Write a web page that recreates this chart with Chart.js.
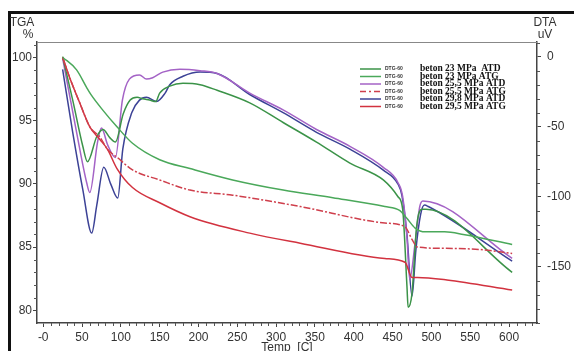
<!DOCTYPE html>
<html>
<head>
<meta charset="utf-8">
<script src="https://cdn.jsdelivr.net/npm/chart.js@4.4.1/dist/chart.umd.min.js"></script>
<style>
  html, body { margin: 0; padding: 0; background: #fff; }
  canvas { display: block; }
</style>
</head>
<body>
<canvas id="tgaChart" width="574" height="351"></canvas>
<script>
// axis ticks
const xTicks = [0, 50, 100, 150, 200, 250, 300, 350, 400, 450, 500, 550, 600];
const xTickLabels = ['-0', '50', '100', '150', '200', '250', '300', '350', '400', '450', '500', '550', '600'];
const tgaTicks = [80, 85, 90, 95, 100];
const dtaTicks = [-150, -100, -50, 0];

// beton 23 MPa ATD (DTA, uV)
const dta23Temp = [25, 38, 51, 57, 69, 77, 86, 93, 103, 112, 121, 128, 137, 145, 150, 163, 180, 202, 224, 266, 309, 352, 395, 438, 457, 463, 468.5, 470, 475, 481, 488, 493, 604];
const dta23Val = [0, -31, -64, -75, -57, -52, -58, -61, -41, -31, -29, -30, -31, -32, -26, -21, -19, -20, -24, -33, -47, -61, -76, -88, -100, -109, -164, -179, -169, -121, -109, -109, -154];

// beton 23 MPa ATG (TGA, %)
const tga23Temp = [25, 43, 56, 62, 77, 95, 115, 150, 189, 244, 309, 373, 440, 459, 468, 479, 492, 517, 541, 604];
const tga23Val = [100, 99.0, 97.6, 97.0, 95.8, 94.5, 93.2, 91.9, 91.2, 90.3, 89.5, 88.9, 88.2, 87.9, 87.3, 86.5, 86.2, 86.2, 86.0, 85.2];

// beton 25,5 MPa ATD (DTA, uV)
const dta255Temp = [25, 43, 56, 60, 70, 75, 83, 93, 102, 111, 124, 133, 141, 154, 176, 202, 224, 266, 309, 352, 395, 438, 457, 463, 468.5, 472, 479, 485, 489, 604];
const dta255Val = [-1, -54, -90, -97, -61, -51, -63, -72, -31, -16, -13, -16, -15, -11, -9, -10, -12, -26, -38, -52, -64, -79, -90, -100, -129, -159, -133, -107, -103, -144];

// beton 25,5 MPa ATG (TGA, %)
const tga255Temp = [25, 34, 47, 60, 73, 83, 95, 115, 150, 189, 244, 331, 440, 466, 475, 482, 517, 563, 604];
const tga255Val = [100, 98.4, 96.4, 94.5, 93.7, 92.7, 92.1, 91.1, 90.3, 89.5, 89.1, 88.2, 86.9, 86.6, 85.6, 85.0, 84.9, 84.8, 84.5];

// beton 29,8 MPa ATD (DTA, uV)
const dta298Temp = [25, 38, 51, 62.5, 69, 78, 87, 96, 102.5, 114, 124, 133, 146, 157, 163, 180, 202, 224, 266, 309, 352, 395, 438, 457, 462, 468.5, 475, 480, 486, 491, 496, 604];
const dta298Val = [-9, -54, -95, -126, -106, -79, -91, -101, -66, -40, -31, -29, -32, -26, -20, -14, -11, -12, -27, -40, -54, -66, -81, -91, -99, -127, -171, -138, -113, -106, -107, -146];

// beton 29,5 MPa ATG (TGA, %)
const tga295Temp = [25, 34, 47, 60, 73, 83, 95, 115, 150, 189, 266, 331, 440, 466, 475, 482, 520, 604];
const tga295Val = [100, 98.4, 96.4, 94.5, 93.5, 92.7, 91.2, 89.7, 88.5, 87.4, 86.1, 85.3, 84.1, 83.8, 82.6, 82.6, 82.4, 81.6];

const legendNames = ['beton 23 MPa  ATD', 'beton 23 MPa ATG', 'beton 25,5 MPa ATD', 'beton 25,5 MPa ATG', 'beton 29,8 MPa ATD', 'beton 29,5 MPa ATG'];
const colors = ['#3b9348', '#4aa85a', '#a463c6', '#cf3f4c', '#3c4296', '#d2323f'];

function pts(t, v) {
    return t.map((x, i) => ({ x: x, y: v[i] }));
}

const font = 'Liberation Sans, Arial, sans-serif';

// extra drawing: frame, axis headings, minor ticks, legend
const decor = {
    id: 'decor',
    afterDraw(chart) {
        const c = chart.ctx;
        const a = chart.chartArea;
        const sx = chart.scales.x, sl = chart.scales.yL, sr = chart.scales.yR;
        c.save();
        // outer black frame
        c.fillStyle = '#111';
        c.fillRect(8, 11, 566, 3);
        c.fillRect(8, 11, 3, 340);
        // plot top line
        c.strokeStyle = '#888';
        c.lineWidth = 1;
        c.beginPath();
        c.moveTo(a.left, a.top + 0.5);
        c.lineTo(a.right, a.top + 0.5);
        c.stroke();
        // minor ticks
        c.strokeStyle = '#555';
        c.beginPath();
        for (let v = 10; v <= 630; v += 10) {
            if (v % 50 === 0) continue;
            const px = Math.round(sx.getPixelForValue(v)) + 0.5;
            c.moveTo(px, a.bottom);
            c.lineTo(px, a.bottom + 3);
        }
        for (let v = 80; v <= 101; v += 1) {
            if (v % 5 === 0) continue;
            const py = Math.round(sl.getPixelForValue(v)) + 0.5;
            c.moveTo(a.left, py);
            c.lineTo(a.left - 3, py);
        }
        for (let v = -190; v <= 10; v += 10) {
            if (v % 50 === 0) continue;
            const py = Math.round(sr.getPixelForValue(v)) + 0.5;
            c.moveTo(a.right, py);
            c.lineTo(a.right + 3, py);
        }
        c.stroke();
        // axis headings
        c.fillStyle = '#333';
        c.font = '12px ' + font;
        c.textAlign = 'center';
        c.textBaseline = 'alphabetic';
        c.fillText('TGA', 22, 26);
        c.fillText('%', 28, 38);
        c.fillText('DTA', 545, 26);
        c.fillText('uV', 545, 38);
        c.textBaseline = 'top';
        c.fillText('Temp  [C]', (a.left + a.right) / 2, 342);
        // legend
        const rowY = [69, 76.5, 84, 91.5, 99, 106.5];
        legendNames.forEach((name, i) => {
            const y = rowY[i];
            c.strokeStyle = colors[i];
            c.lineWidth = 1.5;
            c.setLineDash(i === 3 ? [6, 3, 2, 3] : []);
            c.beginPath();
            c.moveTo(360, y);
            c.lineTo(381, y);
            c.stroke();
            c.setLineDash([]);
            c.fillStyle = '#333';
            c.textAlign = 'left';
            c.textBaseline = 'middle';
            c.font = 'bold 5px ' + font;
            c.fillText('DTG-60', 385, y);
            c.fillStyle = '#111';
            c.font = 'bold 9.5px Liberation Serif, Times New Roman, serif';
            c.fillText(name, 420, y);
        });
        c.restore();
    }
};

const ctx = document.getElementById('tgaChart').getContext('2d');
const tgaChart = new Chart(ctx, {
    type: 'line',
    data: {
        datasets: [
            { label: legendNames[1], data: pts(tga23Temp, tga23Val), yAxisID: 'yL', borderColor: colors[1] },
            { label: legendNames[3], data: pts(tga255Temp, tga255Val), yAxisID: 'yL', borderColor: colors[3], borderDash: [7, 2, 2, 2] },
            { label: legendNames[5], data: pts(tga295Temp, tga295Val), yAxisID: 'yL', borderColor: colors[5] },
            { label: legendNames[0], data: pts(dta23Temp, dta23Val), yAxisID: 'yR', borderColor: colors[0] },
            { label: legendNames[2], data: pts(dta255Temp, dta255Val), yAxisID: 'yR', borderColor: colors[2] },
            { label: legendNames[4], data: pts(dta298Temp, dta298Val), yAxisID: 'yR', borderColor: colors[4] }
        ]
    },
    options: {
        responsive: false,
        animation: false,
        devicePixelRatio: 1,
        layout: { padding: { top: 42, left: 0, right: 0, bottom: 0 } },
        elements: {
            point: { radius: 0 },
            line: { borderWidth: 1.5, cubicInterpolationMode: 'monotone', fill: false }
        },
        plugins: {
            legend: { display: false },
            tooltip: { enabled: false }
        },
        scales: {
            x: {
                type: 'linear',
                min: -8,
                max: 636,
                afterBuildTicks: s => { s.ticks = xTicks.map(v => ({ value: v })); },
                afterFit: s => { s.height = 28; },
                grid: { drawOnChartArea: false, tickLength: 4, color: '#444' },
                border: { color: '#444', width: 1.5 },
                ticks: {
                    padding: 3,
                    color: '#333',
                    font: { family: font, size: 12 },
                    maxRotation: 0,
                    callback: (v, i) => xTickLabels[i]
                }
            },
            yL: {
                type: 'linear',
                position: 'left',
                min: 79,
                max: 101.2,
                afterBuildTicks: s => { s.ticks = tgaTicks.map(v => ({ value: v })); },
                afterFit: s => { s.width = 37; },
                grid: { drawOnChartArea: false, tickLength: 4, color: '#444' },
                border: { color: '#444', width: 1.5 },
                ticks: { padding: 1, color: '#333', font: { family: font, size: 12 } }
            },
            yR: {
                type: 'linear',
                position: 'right',
                min: -190.2,
                max: 10.5,
                afterBuildTicks: s => { s.ticks = dtaTicks.map(v => ({ value: v })); },
                afterFit: s => { s.width = 37; },
                grid: { drawOnChartArea: false, tickLength: 4, color: '#444' },
                border: { color: '#444', width: 1.5 },
                ticks: { padding: 6, color: '#333', font: { family: font, size: 12 } }
            }
        }
    },
    plugins: [decor]
});
</script>
</body>
</html>
